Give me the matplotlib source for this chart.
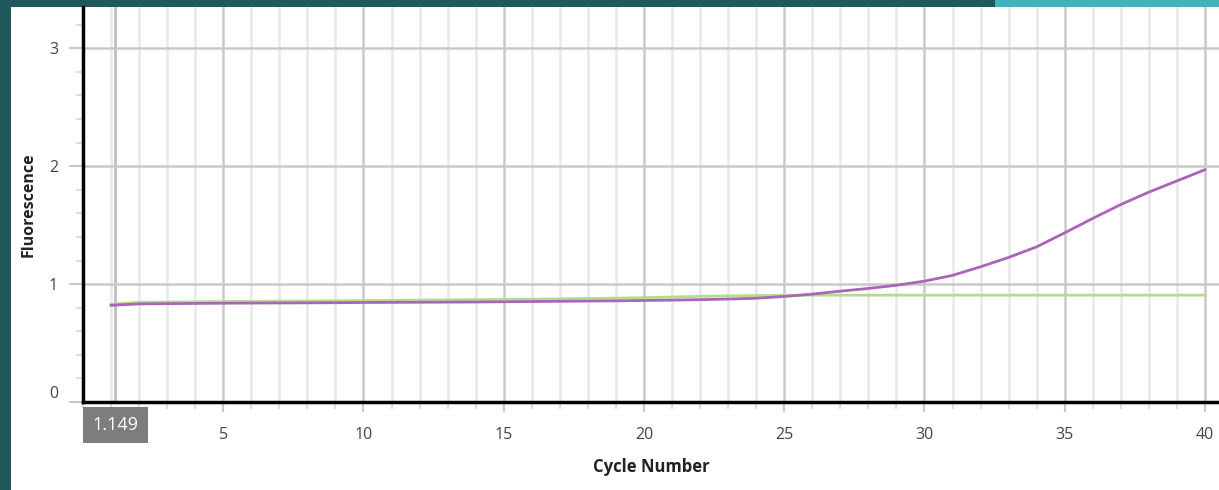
import numpy as np
import matplotlib.pyplot as plt
import matplotlib.patches as patches
import matplotlib.transforms as mtransforms
from matplotlib.ticker import MultipleLocator

plt.rcParams['font.family'] = ['Open Sans', 'DejaVu Sans']

# data
cycles = list(range(1, 41))
green = [0.830, 0.845, 0.848, 0.850, 0.852, 0.853, 0.855, 0.857, 0.858, 0.860,
         0.862, 0.864, 0.866, 0.868, 0.870, 0.872, 0.875, 0.878, 0.881, 0.885,
         0.890, 0.896, 0.900, 0.903, 0.905, 0.906, 0.906, 0.906, 0.906, 0.906,
         0.906, 0.906, 0.906, 0.906, 0.906, 0.906, 0.906, 0.906, 0.906, 0.906]
purple = [0.820, 0.832, 0.834, 0.836, 0.838, 0.839, 0.840, 0.841, 0.842, 0.844,
          0.845, 0.846, 0.847, 0.848, 0.850, 0.852, 0.854, 0.856, 0.858, 0.861,
          0.864, 0.868, 0.873, 0.880, 0.895, 0.915, 0.940, 0.963, 0.990, 1.025,
          1.074, 1.147, 1.226, 1.316, 1.435, 1.557, 1.675, 1.780, 1.875, 1.970]
cursor_x = 1.149
xticks = [5, 10, 15, 20, 25, 30, 35, 40]
yticks = [0, 1, 2, 3]

W, H = 1219, 490
fig = plt.figure(figsize=(W/100, H/100), dpi=100)
fig.patch.set_facecolor('#21585b')

# white slide area and teal strip at top right
fig.patches.append(patches.Rectangle((11/W, 0), 1 - 11/W, 1 - 7/H,
                                     transform=fig.transFigure, fc='white', ec='none', zorder=-10))
fig.patches.append(patches.Rectangle((995/W, 1 - 7/H), 1, 7/H,
                                     transform=fig.transFigure, fc='#3fb4bc', ec='none', zorder=-10))

ax = fig.add_axes([83/W, 88/H, 1 - 83/W, 395/H])
ax.set_facecolor('white')
ax.set_xlim(0, 40.5)
ax.set_ylim(0, 3.35)

ax.xaxis.set_minor_locator(MultipleLocator(1))
ax.yaxis.set_minor_locator(MultipleLocator(0.2))
ax.set_xticks(xticks)
ax.set_xticklabels([str(t) for t in xticks])
ax.set_yticks(yticks)
ax.set_yticklabels([str(t) for t in yticks])

ax.grid(which='major', axis='both', color='#c9c9c9', lw=1.8, zorder=0)
ax.grid(which='minor', axis='x', color='#e8e8e8', lw=1.8, zorder=0)
ax.axvline(cursor_x, color='#bdbdbd', lw=2, zorder=1)

ax.tick_params(axis='both', which='major', colors='#c9c9c9', labelcolor='#444444',
               labelsize=11.5, width=1.5)
ax.tick_params(axis='y', which='major', length=10, pad=8)
ax.tick_params(axis='x', which='major', length=7, pad=11)
ax.tick_params(axis='both', which='minor', colors='#dddddd', length=5, width=1.5)

# the "0" label sits a bit above its tick in the reference
ylabs = ax.get_yticklabels()
ylabs[0].set_transform(ylabs[0].get_transform() +
                       mtransforms.ScaledTranslation(0, 10/100, fig.dpi_scale_trans))

for s in ['top', 'right']:
    ax.spines[s].set_visible(False)
for s in ['left', 'bottom']:
    ax.spines[s].set_color('black')
    ax.spines[s].set_linewidth(2.5)

ax.plot(cycles, green, color='#b3dc8c', lw=2, zorder=3)
ax.plot(cycles, purple, color='#a966b8', lw=2, zorder=4)

# cursor readout box
fig.patches.append(patches.Rectangle((83/W, (H - 443)/H), 65/W, 36/H,
                                     transform=fig.transFigure, fc='#7d7d7d', ec='none', zorder=5))
fig.text(115.5/W, (H - 425)/H, '1.149', ha='center', va='center',
         fontsize=13, color='white', zorder=6)

ax.set_xlabel('Cycle Number', fontsize=12, fontweight='bold', color='#222222')
ax.xaxis.set_label_coords(0.5, -(458 - 402)/395)
ax.set_ylabel('Fluorescence', fontsize=11.5, fontweight='bold', color='#222222')
ax.yaxis.set_label_coords(-(83 - 37)/(W - 83), 0.5)

fig.savefig('out.png', dpi=100, facecolor=fig.get_facecolor())
